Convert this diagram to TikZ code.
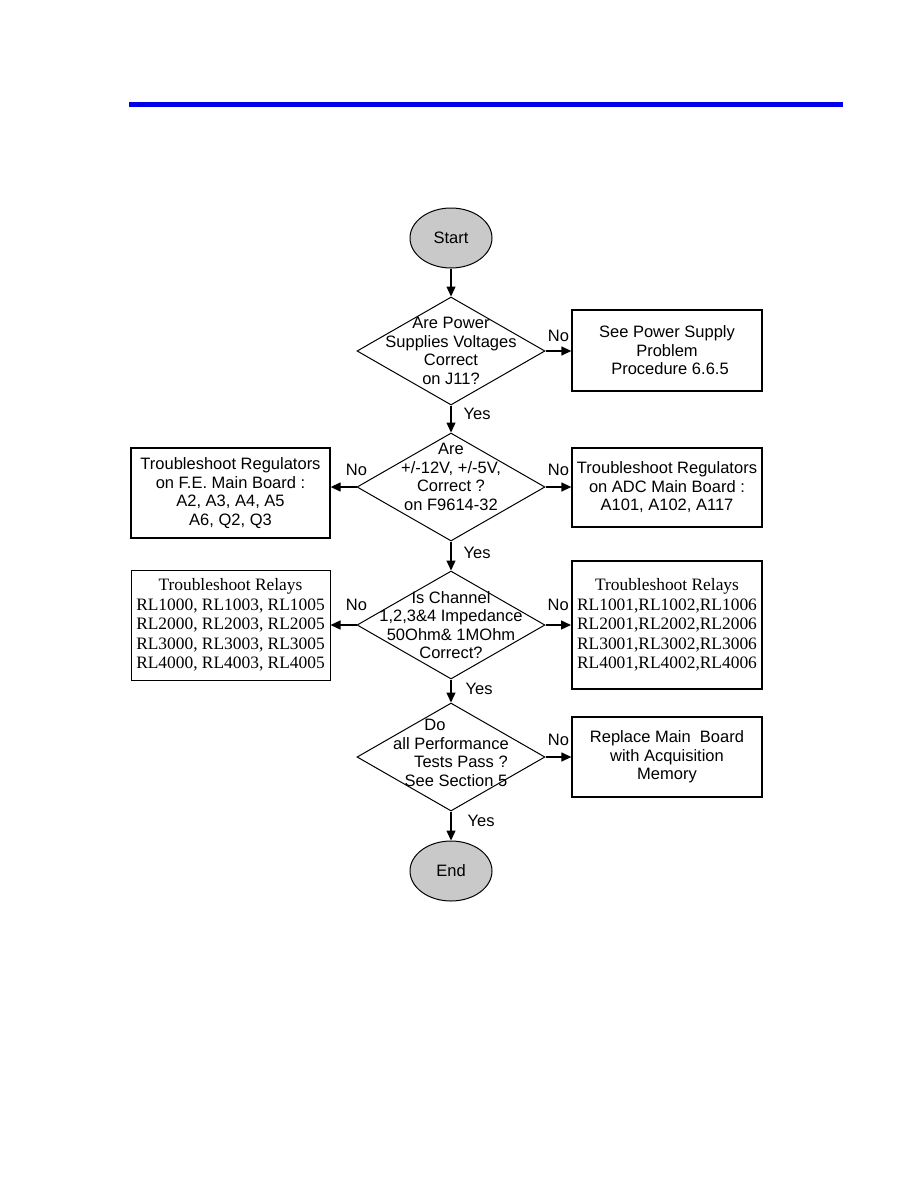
\documentclass[tikz,border=0pt]{standalone}
\usepackage{fontspec}
\setmainfont{Liberation Sans}
\newfontfamily\relayfont{Liberation Serif}
\usetikzlibrary{shapes.geometric, arrows.meta}
\definecolor{barblue}{RGB}{0,0,235}
\begin{document}
\begin{tikzpicture}[x=1pt, y=-1pt, >={Triangle[length=10pt, width=9pt]}, line width=1.3pt,
	every node/.style={font=\fontsize{16.5}{18.5}\selectfont},
	terminal/.style={ellipse, draw, fill=gray!42, minimum width=82pt, minimum height=60pt, line width=1pt},
	decision/.style={diamond, draw, minimum width=188pt, minimum height=108pt, inner sep=0pt, line width=1pt},
	action/.style={rectangle, draw, align=center, inner sep=0pt, minimum width=190pt},
	relays/.style={action, font=\relayfont\fontsize{17.4}{19.6}\selectfont},
	tag/.style={inner sep=0pt}]
				\useasboundingbox (0,0) rectangle (918,1188);
				% 1. header bar
				\fill[barblue] (129,102) rectangle (843,107);
				
				% 2. terminals and decisions (main column)
				\node[terminal] (start) at (451,238) {Start};
				\node[decision, label={[align=center]center:{Are Power\\Supplies Voltages\\Correct\\on J11?}}] (q1) at (451,351) {};
				\node[decision, label={[align=center, yshift=10pt]center:{Are\\+/-12V, +/-5V,\\Correct ?\\on F9614-32}}] (q2) at (451,487) {};
				\node[decision, label={[align=center]center:{Is Channel\\1,2,3\&4 Impedance\\50Ohm\& 1MOhm\\Correct?}}] (q3) at (451,625) {};
				\node[decision, label={[align=center, yshift=4pt]center:{Do\hspace*{32pt}\\all Performance\hspace*{16pt}\\\hspace*{20pt}Tests Pass ?\\\hspace*{10pt}See Section 5}}] (q4) at (451,757) {};
				\node[terminal] (end) at (451,871) {End};
				
				% 3. action boxes (left and right)
				\node[action, minimum height=81pt] (psu) at (667,350.5) {See Power Supply\\Problem\\\hspace*{6pt}Procedure 6.6.5};
				\node[action, minimum width=199pt, minimum height=90pt] (fereg) at (230.5,493) {Troubleshoot Regulators\\on F.E. Main Board :\\A2, A3, A4, A5\\A6, Q2, Q3};
				\node[action, minimum height=79pt] (adcreg) at (667,487.5) {Troubleshoot Regulators\\on ADC Main Board :\\A101, A102, A117};
				\node[relays, minimum width=199pt, minimum height=110pt, line width=1pt] (ferel) at (230.5,625) {Troubleshoot Relays\\RL1000, RL1003, RL1005\\RL2000, RL2003, RL2005\\RL3000, RL3003, RL3005\\RL4000, RL4003, RL4005};
				\node[relays, minimum height=128pt, line width=2pt] (adcrel) at (667,625) {Troubleshoot Relays\\RL1001,RL1002,RL1006\\RL2001,RL2002,RL2006\\RL3001,RL3002,RL3006\\RL4001,RL4002,RL4006};
				\node[action, minimum height=80pt] (board) at (667,757) {Replace Main~ Board\\with Acquisition\\Memory};
				
				% 4. connectors with Yes / No (kept horizontal)
				\draw[->] (start.south) -- (q1.north);
				\draw[->] (q1.east) -- node[tag, midway, above=9pt] {No} (q1.east -| psu.west);
				\draw[->] (q1.south) -- node[tag, pos=0.32, right=12pt] {Yes} (q2.north);
				\draw[->] (q2.west) -- node[tag, pos=0, above=11pt] {No} (q2.west -| fereg.east);
				\draw[->] (q2.east) -- node[tag, midway, above=11pt] {No} (q2.east -| adcreg.west);
				\draw[->] (q2.south) -- node[tag, pos=0.39, right=12pt] {Yes} (q3.north);
				\draw[->] (q3.west) -- node[tag, pos=0, above=14pt] {No} (q3.west -| ferel.east);
				\draw[->] (q3.east) -- node[tag, midway, above=14pt] {No} (q3.east -| adcrel.west);
				\draw[->] (q3.south) -- node[tag, pos=0.42, right=14pt] {Yes} (q4.north);
				\draw[->] (q4.east) -- node[tag, midway, above=11pt] {No} (q4.east -| board.west);
				\draw[->] (q4.south) -- node[tag, pos=0.33, right=16pt] {Yes} (end.north);
			\end{tikzpicture}
\end{document}
